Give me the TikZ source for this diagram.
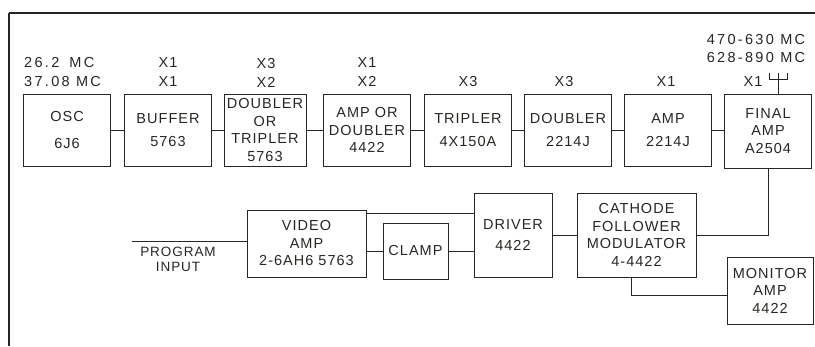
\documentclass[tikz,border=0pt]{standalone}
\usepackage{fontspec}
\newfontfamily\leroyfont{Liberation Sans}[LetterSpace=7]
\newfontfamily\leroywide{Liberation Sans}[LetterSpace=16]
\usepackage{tikz}
\usetikzlibrary{positioning}
\usepackage{xcolor}
\definecolor{inkgray}{RGB}{38,38,34}

\begin{document}
\begin{tikzpicture}[
  x=1pt,y=-1pt,
  blk/.style={draw=inkgray,line width=0.9pt,align=center,inner sep=1pt,text=inkgray,font=\leroyfont\fontsize{14.5}{17.5}\selectfont},
  topblk/.style={blk,minimum width=87pt,minimum height=72pt},
  mult/.style={align=center,inner sep=0pt,text=inkgray,font=\leroyfont\fontsize{14.5}{19}\selectfont},
  freq/.style={mult,font=\leroywide\fontsize{14.5}{17.5}\selectfont},
  wire/.style={draw=inkgray,line width=0.9pt},
  frame/.style={draw=inkgray,line width=1.6pt}
]
\useasboundingbox (0,0) rectangle (815,346);

% FRAME: top rule and left rule only
\coordinate (fr0) at (9,13);
\draw[frame] (fr0) -- (815,13);
\draw[frame] (fr0) -- (9,346);

% TOP ROW: multiplier chain
\node[topblk] (osc)    at (67,130)  {OSC\\[9pt]6J6};
\node[topblk] (buffer) at (168,130) {BUFFER\\[6pt]5763};
\node[topblk,minimum width=82pt] (dbltrip) at (265,130) {DOUBLER\\OR\\TRIPLER\\5763};
\node[topblk] (ampdbl) at (367,130) {AMP OR\\DOUBLER\\4422};
\node[topblk] (tripler) at (468,130) {TRIPLER\\[6pt]4X150A};
\node[topblk] (doubler) at (568,130) {DOUBLER\\[6pt]2214J};
\node[topblk] (amp)    at (668,130) {AMP\\[6pt]2214J};
\node[topblk,minimum height=74pt] (final) at (768,131) {FINAL\\AMP\\A2504};

\draw[wire] (osc) -- (buffer);
\draw[wire] (buffer) -- (dbltrip);
\draw[wire] (dbltrip) -- (ampdbl);
\draw[wire] (ampdbl) -- (tripler);
\draw[wire] (tripler) -- (doubler);
\draw[wire] (doubler) -- (amp);
\draw[wire] (amp) -- (final);

% multiplication factors over the boxes
\node[freq,anchor=west,align=left,font=\leroywide\fontsize{14.5}{19}\selectfont] (fosc) at (24,72.5) {26.2\hspace{10pt}MC\\37.08 MC};
\node[mult] (mbuffer)  at (168,72.5) {X1\\X1};
\node[mult] (mdbltrip) at (266,72.5) {X3\\X2};
\node[mult] (mampdbl)  at (367,72.5) {X1\\X2};
\node[mult] (mtripler) at (468,82) {X3};
\node[mult] (mdoubler) at (564,82) {X3};
\node[mult] (mamp)     at (666,82) {X1};
\node[mult] (mfinal)   at (753,82) {X1};
\node[freq] (fout) at (756,48.5) {470-630 MC\\628-890 MC};

% antenna on the final amp
\coordinate (ant) at ([xshift=10pt]final.north);
\draw[wire] (ant) -- ++(0,-21);
\draw[wire] (ant) ++(-9,-21) -- ++(0,7) -- ++(18,0) -- ++(0,-7);

% BOTTOM ROW: video modulator chain
\node[blk,minimum width=119pt,minimum height=67pt] (video) at (306.5,243.5) {VIDEO\\AMP\\2-6AH6 5763};
\node[blk,minimum width=65pt,minimum height=56pt] (clamp) at (415.5,251) {CLAMP};
\node[blk,minimum width=78pt,minimum height=84pt] (driver) at (513,235) {DRIVER\\[4pt]4422};
\node[blk,minimum width=119pt,minimum height=84pt] (cathode) at (636.5,235) {CATHODE\\FOLLOWER\\MODULATOR\\4-4422};
\node[blk,minimum width=86pt,minimum height=67pt] (monitor) at (770,290.5) {MONITOR\\AMP\\4422};

\coordinate (prog) at (132,241);
\node[blk,draw=none,anchor=north,font=\leroyfont\fontsize{13.5}{15}\selectfont] (proglab) at (178,246) {PROGRAM\\INPUT};
\draw[wire] (prog) -- (prog -| video.west);

\draw[wire] ([yshift=-4pt]video.north east) -- ([yshift=-4pt]video.north east -| driver.west);
\draw[wire] (video.east |- clamp.west) -- (clamp.west);
\draw[wire] (clamp.east) -- (clamp.east -| driver.west);
\draw[wire] (driver) -- (cathode);
\draw[wire] (cathode.east) -| (final.south);
\draw[wire] ([xshift=-5pt]cathode.south) |- ([yshift=-5pt]monitor.west);

\end{tikzpicture}
\end{document}
